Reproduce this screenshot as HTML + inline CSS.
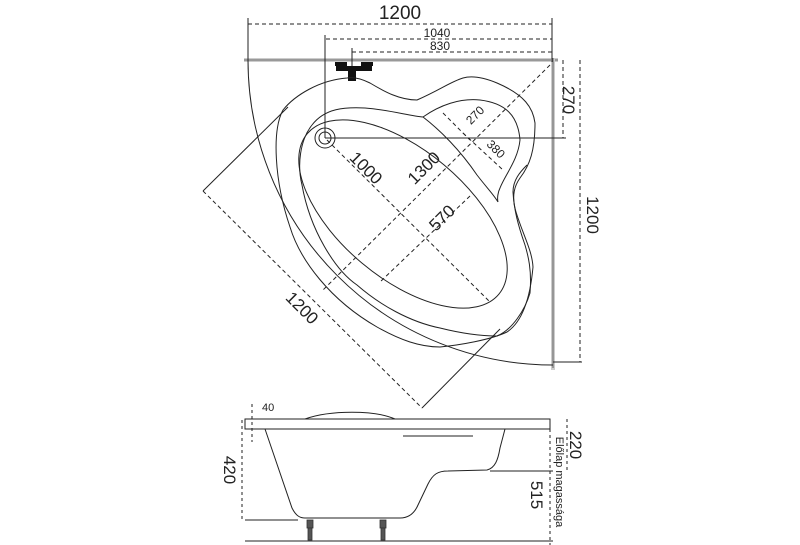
<!DOCTYPE html>
<html><head><style>body{margin:0;background:#fff}svg{display:block}text{font-family:"Liberation Sans",sans-serif;fill:#222}</style></head>
<body>
<svg width="800" height="545" viewBox="0 0 800 545" fill="none" stroke="#222" stroke-width="1">
<line x1="244" y1="60" x2="558" y2="60" stroke="#ccc" stroke-width="4"/>
<line x1="244" y1="60" x2="558" y2="60" stroke="#444" stroke-width="0.8"/>
<line x1="553" y1="58" x2="553" y2="370" stroke="#ccc" stroke-width="4"/>
<line x1="553" y1="58" x2="553" y2="368" stroke="#444" stroke-width="0.8"/>
<g stroke-dasharray="4,3">
<line x1="248" y1="24" x2="552" y2="24"/>
<line x1="326" y1="39" x2="552" y2="39"/>
<line x1="352" y1="52" x2="552" y2="52"/>
<line x1="563" y1="60" x2="563" y2="138"/>
<line x1="580" y1="60" x2="580" y2="362"/>
</g>
<line x1="248" y1="18" x2="248" y2="62"/>
<line x1="552" y1="18" x2="552" y2="62"/>
<line x1="352" y1="48" x2="352" y2="80"/>
<line x1="325" y1="35" x2="325" y2="138"/>
<line x1="325" y1="138" x2="566" y2="138"/>
<line x1="553" y1="362" x2="582" y2="362"/>
<text x="400" y="19" font-size="19" text-anchor="middle" stroke="none">1200</text>
<text x="437" y="37" font-size="12" text-anchor="middle" stroke="none">1040</text>
<text x="440" y="50" font-size="12" text-anchor="middle" stroke="none">830</text>
<text transform="translate(563,100) rotate(90)" font-size="17" text-anchor="middle" stroke="none">270</text>
<text transform="translate(587,215) rotate(90)" font-size="17" text-anchor="middle" stroke="none">1200</text>
<g fill="#111" stroke="none">
<rect x="335" y="62" width="12" height="4"/><rect x="361" y="62" width="12" height="4"/>
<rect x="336" y="66" width="36" height="5"/><rect x="348" y="70" width="8" height="11"/>
</g>
<path d="M248,60 A305,305 0 0 0 553,365"/>
<path d="M347,78 C320,80 295,95 283,110 C272,130 274,180 290,227 C300,260 330,300 377,327 C400,340 420,347 440,347 C460,345 490,340 507,332 C522,322 530,300 533,267 C532,250 523,235 516,212 C511,195 515,185 520,178 C530,165 535,150 535,123 C533,108 525,95 497,83 C480,76 470,76 463,78 C450,82 440,90 417,100 C400,100 385,92 370,83 C360,78 352,77 347,78 Z"/>
<path d="M312,125 C325,108 345,107 365,108 C390,110 410,116 423,117 M312,125 C300,140 297,165 302,185 C310,230 335,270 357,285 C380,305 410,322 440,328 C460,333 480,336 497,336 C512,330 525,310 530,293 C532,270 528,255 525,245 C518,225 514,210 513,192 C513,180 520,172 527,165"/>
<path d="M423,117 C440,105 460,98 480,100 C505,103 518,115 520,140 C518,160 505,175 500,188 C498,192 497,198 498,202 M423,117 C440,130 460,150 477,175 C487,188 494,195 498,202"/>
<ellipse cx="403" cy="214" rx="125" ry="64" transform="rotate(40 403 214)"/>
<circle cx="325" cy="138" r="10"/><circle cx="325" cy="138" r="6"/>
<g stroke-dasharray="4,3">
<line x1="327" y1="140" x2="490" y2="302"/>
<line x1="550" y1="65" x2="323" y2="290"/>
<line x1="470" y1="196" x2="380" y2="282"/>
<line x1="443" y1="113" x2="470" y2="140"/>
<line x1="463" y1="133" x2="503" y2="170"/>
<line x1="203" y1="191" x2="422" y2="408"/>
</g>
<line x1="203" y1="191" x2="288" y2="107"/>
<line x1="422" y1="408" x2="500" y2="329"/>
<text transform="translate(362,172) rotate(45)" font-size="17" text-anchor="middle" stroke="none">1000</text>
<text transform="translate(428,172) rotate(-45)" font-size="17" text-anchor="middle" stroke="none">1300</text>
<text transform="translate(446,222) rotate(-45)" font-size="17" text-anchor="middle" stroke="none">570</text>
<text transform="translate(298,312) rotate(45)" font-size="17" text-anchor="middle" stroke="none">1200</text>
<text transform="translate(478,118) rotate(-45)" font-size="12" text-anchor="middle" stroke="none">270</text>
<text transform="translate(493,152) rotate(45)" font-size="12" text-anchor="middle" stroke="none">380</text>
<rect x="245" y="419" width="305" height="10"/>
<path d="M305,419 C330,410 375,410 395,419"/>
<path d="M265,429 L292,508 C296,516 300,518 305,518 L400,518 C410,518 415,512 418,505 L428,484 C433,474 438,471 448,471 L487,470 C495,468 498,460 500,448 L505,429"/>
<line x1="403" y1="436" x2="473" y2="436"/>
<line x1="490" y1="471" x2="553" y2="471"/>
<line x1="245" y1="520" x2="298" y2="520"/>
<line x1="245" y1="541" x2="553" y2="541"/>
<g stroke-dasharray="3,3">
<line x1="242" y1="420" x2="242" y2="520"/>
<line x1="252" y1="404" x2="252" y2="442"/>
<line x1="550" y1="429" x2="550" y2="545"/>
<line x1="567" y1="419" x2="567" y2="471"/>
</g>
<text x="262" y="411" font-size="11" stroke="none">40</text>
<text transform="translate(224,470) rotate(90)" font-size="17" text-anchor="middle" stroke="none">420</text>
<text transform="translate(570,445) rotate(90)" font-size="17" text-anchor="middle" stroke="none">220</text>
<text transform="translate(531,495) rotate(90)" font-size="17" text-anchor="middle" stroke="none">515</text>
<text transform="translate(556,482) rotate(90)" font-size="11" text-anchor="middle" stroke="none">Előlap magassága</text>
<g fill="#555" stroke="#333" stroke-width="0.8">
<rect x="307" y="520" width="6" height="8"/><rect x="308" y="528" width="4" height="12"/>
<rect x="380" y="520" width="6" height="8"/><rect x="381" y="528" width="4" height="12"/>
</g>
</svg>
</body></html>
